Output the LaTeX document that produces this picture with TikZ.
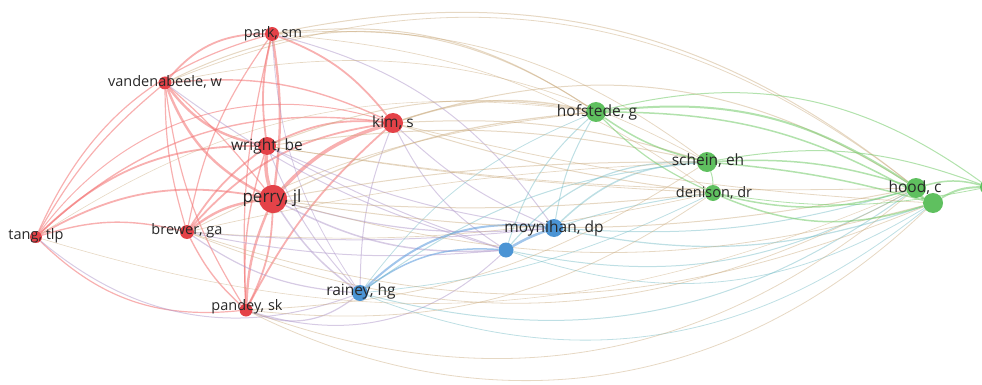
\documentclass[tikz,border=0pt]{standalone}
\usepackage{fontspec}
\setmainfont{Open Sans}
\usetikzlibrary{backgrounds}
\definecolor{nred}{RGB}{228,66,72}
\definecolor{ngreen}{RGB}{95,192,95}
\definecolor{nblue}{RGB}{75,148,212}
\definecolor{labc}{RGB}{40,40,40}
\definecolor{crr}{RGB}{242,112,112}
\definecolor{cgg}{RGB}{115,202,105}
\definecolor{cbb}{RGB}{100,160,222}
\definecolor{crg}{RGB}{200,168,122}
\definecolor{crb}{RGB}{175,152,202}
\definecolor{cbg}{RGB}{110,185,195}
\begin{document}
\begin{tikzpicture}[x=1pt,y=1pt,
  nd/.style={circle,inner sep=0pt,minimum size=#1},
  rn/.style={nd=#1,fill=nred},
  gn/.style={nd=#1,fill=ngreen},
  bn/.style={nd=#1,fill=nblue},
  lab/.style={text=labc,inner sep=0pt,font=\fontsize{#1}{#1}\selectfont},
  rr/.style={draw=crr,draw opacity=0.55},
  gg/.style={draw=cgg,draw opacity=0.55},
  bb/.style={draw=cbb,draw opacity=0.6},
  rg/.style={draw=crg,draw opacity=0.45},
  rb/.style={draw=crb,draw opacity=0.5},
  bg/.style={draw=cbg,draw opacity=0.45}]
\useasboundingbox (0,0) rectangle (982,-385);
% nodes
\node[rn=14] (park) at (272,-34) {};
\node[rn=13] (vand) at (165,-83) {};
\node[rn=18] (wright) at (267,-146) {};
\node[rn=28] (perry) at (273,-199) {};
\node[rn=20] (kim) at (393,-123) {};
\node[rn=12] (tang) at (36,-237) {};
\node[rn=14] (brewer) at (187,-232) {};
\node[rn=13] (pandey) at (246,-310) {};
\node[bn=16] (rainey) at (360,-293) {};
\node[bn=15] (b2) at (506,-250) {};
\node[bn=18] (moyn) at (554,-228) {};
\node[gn=20] (hof) at (596,-112) {};
\node[gn=20] (schein) at (707,-162) {};
\node[gn=16] (denison) at (713,-193) {};
\node[gn=20] (hood) at (916,-188) {};
\node[gn=20] (g2) at (933,-203) {};
\node[gn=16] (g3) at (988,-187) {};
% labels
\node[lab=14.5] (parkl) at (273,-34) {park, sm};
\node[lab=14.5] (vandl) at (165,-82) {vandenabeele, w};
\node[lab=15.5] (wrightl) at (267,-146) {wright, be};
\node[lab=17] (perryl) at (272,-198) {perry, jl};
\node[lab=15.5] (kiml) at (393,-123) {kim, s};
\node[lab=14.5] (tangl) at (36,-236) {tang, tlp};
\node[lab=14.5] (brewerl) at (187,-231) {brewer, ga};
\node[lab=14.5] (pandeyl) at (247,-307) {pandey, sk};
\node[lab=15.5] (raineyl) at (361,-291) {rainey, hg};
\node[lab=15.5] (moynl) at (554,-228) {moynihan, dp};
\node[lab=15.5] (hofl) at (597,-112) {hofstede, g};
\node[lab=15.5] (scheinl) at (708,-161) {schein, eh};
\node[lab=14.5] (denisonl) at (714,-193) {denison, dr};
\node[lab=15.5] (hoodl) at (915,-188) {hood, c};
% edges
\begin{scope}[on background layer]
\foreach \a/\b/\s/\w/\bd in {
 vand/park/rr/1.8/25, wright/park/rr/1.8/10, perry/park/rr/2.4/-8, park/kim/rr/1.8/15,
 tang/park/rr/1.2/25, brewer/park/rr/1.2/12, pandey/park/rr/1.2/8, vand/wright/rr/2.4/-20,
 vand/perry/rr/2.4/-20, vand/kim/rr/1.4/15, tang/vand/rr/1.2/10, vand/brewer/rr/1.2/-8,
 vand/pandey/rr/1.2/-12, wright/perry/rr/3.5/-10, wright/kim/rr/1.8/15, tang/wright/rr/1.8/22,
 brewer/wright/rr/1.8/10, wright/pandey/rr/1.4/-10, perry/kim/rr/3.5/15, tang/perry/rr/1.8/20,
 brewer/perry/rr/2.4/15, pandey/perry/rr/2.4/10, perry/pandey/rr/1.8/12, tang/kim/rr/1.4/25,
 brewer/kim/rr/1.8/20, pandey/kim/rr/1.8/10, tang/brewer/rr/1.4/15, tang/pandey/rr/1.2/-25,
 brewer/pandey/rr/1.4/-10, tang/kim/rr/1/35, vand/perry/rr/1.2/5,
 tang/rainey/rb/1/-30, pandey/rainey/rb/1.2/-30, pandey/b2/rb/1/-30, perry/b2/rb/1.5/-15,
 perry/moyn/rb/1.2/-10, kim/moyn/rb/1/-10, kim/rainey/rb/1/-10, wright/rainey/rb/1/-10,
 perry/rainey/rb/1.5/-10, park/moyn/rb/1/20, vand/b2/rb/1/-10, brewer/rainey/rb/1.2/-15,
 brewer/b2/rb/1/-8, wright/b2/rb/1/-5, park/rainey/rb/0.8/-15, brewer/moyn/rb/1/-5,
 wright/moyn/rb/1/-8, kim/b2/rb/1/-15,
 rainey/b2/bb/1.5/20, rainey/moyn/bb/2/25, b2/moyn/bb/2.5/5,
 moyn/schein/bg/1.5/20, b2/schein/bg/1.2/25, moyn/hof/bg/1/10, b2/hof/bg/1/15,
 moyn/denison/bg/1/5, moyn/g2/bg/1.2/-15, rainey/hood/bg/1/-25, rainey/schein/bg/1/15,
 rainey/hof/bg/0.8/15, b2/hood/bg/1/-20, moyn/hood/bg/1/-10, rainey/g2/bg/0.8/-30,
 b2/g2/bg/0.8/-25, rainey/denison/bg/0.8/-10,
 kim/hof/rg/1.5/15, kim/schein/rg/1/10, kim/hood/rg/1/25, kim/denison/rg/1/-5,
 park/hof/rg/1/20, park/hood/rg/1/25, park/schein/rg/0.8/20, vand/hof/rg/1/30,
 vand/hood/rg/0.8/30, wright/hof/rg/1/15, wright/schein/rg/1/10, perry/hof/rg/1.2/10,
 perry/schein/rg/1/5, perry/hood/rg/1/-10, perry/denison/rg/1/-5, perry/g2/rg/0.8/-15,
 pandey/hood/rg/0.8/-30, pandey/g2/rg/0.8/-35, pandey/denison/rg/0.8/-20, pandey/schein/rg/0.8/-15,
 brewer/hood/rg/0.8/-25, brewer/g2/rg/0.8/-20, brewer/hof/rg/0.8/10, kim/g2/rg/0.8/-5,
 wright/hood/rg/0.8/-5, tang/hof/rg/0.6/20, wright/denison/rg/0.8/-3, park/denison/rg/0.7/15,
 vand/schein/rg/0.7/20, brewer/schein/rg/0.7/5, brewer/denison/rg/0.7/-8, tang/hood/rg/0.6/-20,
 hof/schein/gg/1.5/-10, hof/denison/gg/1.2/-10, hof/hood/gg/2/20, hof/g2/gg/1.5/15,
 hof/g3/gg/1/25, schein/hood/gg/1.5/10, schein/g2/gg/1.5/5, schein/g3/gg/1/15,
 denison/hood/gg/1.5/-15, denison/g2/gg/1.5/-20, denison/g3/gg/0.8/-10, hood/g2/gg/2/-20,
 hood/g3/gg/1.5/15, g2/g3/gg/2/15, schein/denison/gg/1/10}
 \draw[\s,line width=\w pt] (\a) to[bend left=\bd] (\b);
\end{scope}
\end{tikzpicture}
\end{document}
